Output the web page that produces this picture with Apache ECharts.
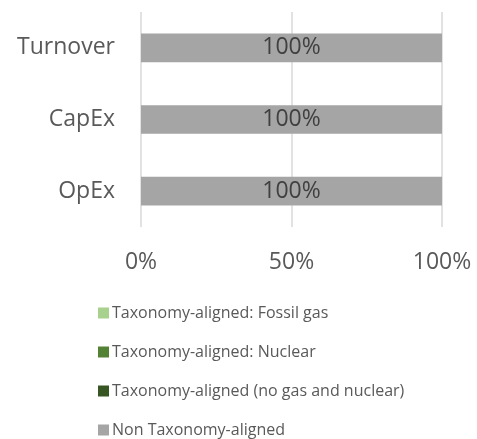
<!DOCTYPE html>
<html>
<head>
<meta charset="utf-8">
<script src="https://cdn.jsdelivr.net/npm/echarts@6/dist/echarts.min.js"></script>
<style>html,body{margin:0;padding:0;background:#fff}#c{width:477px;height:439px}</style>
</head>
<body>
<div id="c"></div>
<script>
const categories = ['Turnover', 'CapEx', 'OpEx'];
const seriesNames = ['Taxonomy-aligned: Fossil gas', 'Taxonomy-aligned: Nuclear', 'Taxonomy-aligned (no gas and nuclear)', 'Non Taxonomy-aligned'];
const fossilGas = [0, 0, 0];
const nuclear = [0, 0, 0];
const alignedOther = [0, 0, 0];
const nonAligned = [100, 100, 100];
const xTicks = [0, 50, 100];
const colors = ['#a9d18e', '#548235', '#375623', '#a5a5a5'];

const seriesData = [fossilGas, nuclear, alignedOther, nonAligned];
const font = '"Open Sans", "Noto Sans", sans-serif';

const chart = echarts.init(document.getElementById('c'));
chart.setOption({
  animation: false,
  grid: { left: 141, right: 35, top: 12, bottom: 212, containLabel: false },
  xAxis: {
    type: 'value', min: xTicks[0], max: xTicks[xTicks.length - 1], interval: xTicks[1] - xTicks[0],
    axisLine: { show: false }, axisTick: { show: false },
    splitLine: { lineStyle: { color: '#d9d9d9', width: 1.5 } },
    axisLabel: { formatter: '{value}%', color: '#595959', fontSize: 23, fontFamily: font, margin: 24 }
  },
  yAxis: {
    type: 'category', data: categories, inverse: true,
    axisLine: { show: false }, axisTick: { show: false },
    axisLabel: { color: '#595959', fontSize: 23, fontFamily: font, margin: 26 }
  },
  legend: {
    orient: 'vertical', left: 98, top: 305, width: 370, height: 134, padding: 0,
    itemWidth: 11, itemHeight: 11, itemGap: 23,
    icon: 'rect',
    textStyle: { color: '#595959', fontSize: 16, fontFamily: font, lineHeight: 16, padding: [0, 0, 0, -2] },
    data: seriesNames
  },
  series: seriesNames.map((name, i) => ({
    name, type: 'bar', stack: 'total', barWidth: '40%',
    itemStyle: { color: colors[i] },
    label: {
      show: true, position: 'inside', color: '#404040', fontSize: 23, fontFamily: font,
      formatter: p => (p.value > 0 ? p.value + '%' : '')
    },
    data: seriesData[i]
  }))
});
</script>
</body>
</html>
